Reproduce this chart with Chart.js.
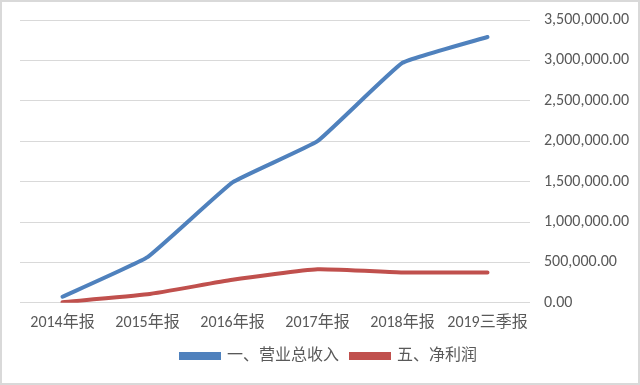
<!DOCTYPE html>
<html>
<head>
<meta charset="utf-8">
<script src="https://cdn.jsdelivr.net/npm/chart.js@4"></script>
<style>
  html, body { margin: 0; padding: 0; background: #fff; }
  .wrap {
    width: 640px;
    height: 385px;
    box-sizing: border-box;
    border: 2px solid #d9d9d9;
    position: relative;
  }
</style>
</head>
<body>
<div class="wrap"><canvas id="financeChart"></canvas></div>
<script>
const categories = ["2014年报", "2015年报", "2016年报", "2017年报", "2018年报", "2019三季报"];
const revenueLabel = "一、营业总收入";
const profitLabel = "五、净利润";
const revenueData = [75000, 565000, 1490000, 2000000, 2970000, 3290000];
const profitData = [8000, 105000, 285000, 415000, 375000, 375000];

const textColor = "#595959";
const fontFamily = "Calibri, Carlito, 'Open Sans', 'Noto Sans CJK SC', sans-serif";

const formatNumber = (v) =>
  Number(v).toLocaleString("en-US", { minimumFractionDigits: 2, maximumFractionDigits: 2 });

new Chart(document.getElementById("financeChart"), {
  type: "line",
  data: {
    labels: categories,
    datasets: [
      {
        label: revenueLabel,
        data: revenueData,
        borderColor: "#4f81bd",
        backgroundColor: "#4f81bd",
        borderWidth: 4,
        pointRadius: 0,
        tension: 0.1,
        borderCapStyle: "round",
      },
      {
        label: profitLabel,
        data: profitData,
        borderColor: "#c0504d",
        backgroundColor: "#c0504d",
        borderWidth: 4,
        pointRadius: 0,
        tension: 0.15,
        borderCapStyle: "round",
      },
    ],
  },
  options: {
    animation: false,
    responsive: true,
    maintainAspectRatio: false,
    layout: {
      autoPadding: false,
      padding: { left: 18, right: 0, top: 18, bottom: 9 },
    },
    plugins: {
      legend: {
        position: "bottom",
        labels: {
          color: textColor,
          boxWidth: 38,
          boxHeight: 4,
          padding: 12,
          font: { size: 16, family: fontFamily },
        },
      },
      tooltip: { enabled: false },
    },
    scales: {
      x: {
        offset: true,
        grid: { display: false },
        border: { display: false },
        ticks: {
          color: textColor,
          font: { size: 16, family: fontFamily },
          maxRotation: 0,
          autoSkip: false,
          padding: 3,
        },
      },
      y: {
        position: "right",
        min: 0,
        max: 3500000,
        grid: { color: "#d9d9d9", drawTicks: false, lineWidth: 1 },
        border: { display: false },
        ticks: {
          stepSize: 500000,
          color: textColor,
          padding: 14,
          font: { size: 16, family: fontFamily },
          callback: (v) => formatNumber(v),
        },
        afterFit: (scale) => {
          scale.width = 108;
          scale.paddingTop = 0;
          scale.paddingBottom = 0;
        },
      },
    },
  },
});
</script>
</body>
</html>
